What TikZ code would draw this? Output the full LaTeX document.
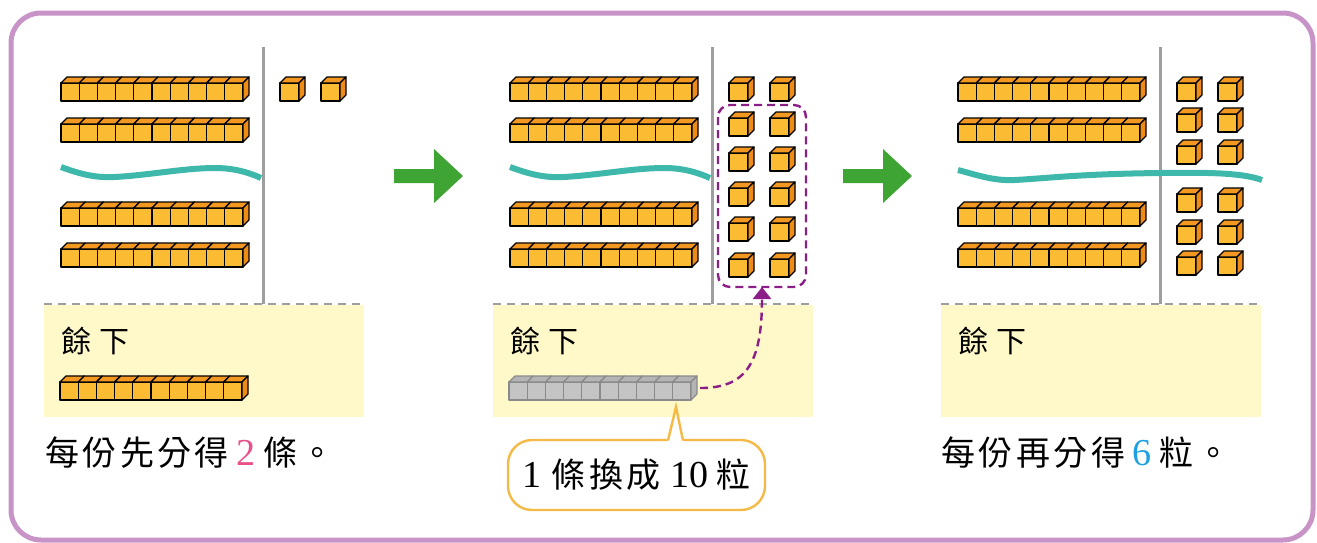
\documentclass[tikz,border=0pt]{standalone}
\usepackage{fontspec}
\newfontfamily\cjk{Noto Sans CJK TC}
\newfontfamily\digitfont{Liberation Serif}[Scale=1.12]
\usetikzlibrary{arrows.meta}

\definecolor{frameviolet}{RGB}{200,148,200}
\definecolor{cubefront}{RGB}{251,188,51}
\definecolor{cubetop}{RGB}{243,152,32}
\definecolor{cubeside}{RGB}{238,140,22}
\definecolor{greyfront}{RGB}{196,196,196}
\definecolor{greytop}{RGB}{180,180,180}
\definecolor{greyline}{RGB}{138,138,138}
\definecolor{dividergrey}{RGB}{158,158,158}
\definecolor{wavegreen}{RGB}{62,184,170}
\definecolor{restyellow}{RGB}{255,248,200}
\definecolor{arrowgreen}{RGB}{62,165,53}
\definecolor{swappurple}{RGB}{140,30,135}
\definecolor{calloutorange}{RGB}{245,185,70}
\definecolor{twopink}{RGB}{232,80,138}
\definecolor{sixblue}{RGB}{30,160,225}

\newcommand{\latn}[1]{{\digitfont #1}}
\newcommand{\cgap}{\hspace{0.1em}}

% one cube face pair: x, y (front top left), width
\newcommand{\onecube}[3]{%
  \filldraw[cubeface] (#1,#2) rectangle ++(#3,18);
  \filldraw[cubetopface] (#1,#2) -- ++(6,-6) -- ++(#3,0) -- ++(-6,6) -- cycle;
}
\newcommand{\tenrod}[2]{%
  \foreach \k in {0,...,9}{\onecube{#1+\k*18.2}{#2}{18.2}}
  \filldraw[cubesideface] (#1+182,#2) -- ++(6,-6) -- ++(0,18) -- ++(-6,6) -- cycle;
}
\newcommand{\unitcube}[2]{%
  \onecube{#1}{#2}{19}
  \filldraw[cubesideface] (#1+19,#2) -- ++(6,-6) -- ++(0,18) -- ++(-6,6) -- cycle;
}

\tikzset{
  frame/.style={draw=frameviolet,line width=2.5pt,rounded corners=15pt},
  cubeface/.style={fill=cubefront,draw=black,line width=0.65pt,line join=round},
  cubetopface/.style={cubeface,fill=cubetop},
  cubesideface/.style={cubeface,fill=cubeside},
  divider/.style={draw=dividergrey,line width=1.5pt},
  restbg/.style={fill=restyellow},
  restline/.style={draw=dividergrey,line width=1.1pt,dash pattern=on 4pt off 3pt},
  wave/.style={draw=wavegreen,line width=3pt},
  goarrow/.style={fill=arrowgreen},
  swapbox/.style={draw=swappurple,line width=1.2pt,dash pattern=on 4pt off 2.5pt,rounded corners=6pt},
  swaparrow/.style={draw=swappurple,line width=1.2pt,dash pattern=on 4pt off 2.5pt,-{Triangle[length=6pt,width=9pt]}},
  resttext/.style={font=\cjk\fontsize{15}{18}\selectfont,inner sep=0pt},
  saytext/.style={font=\cjk\fontsize{17}{20}\selectfont,inner sep=0pt},
  calloutline/.style={draw=calloutorange,line width=1.2pt},
}

\begin{document}
\begin{tikzpicture}[x=0.5pt,y=-0.5pt]
\useasboundingbox (0,0) rectangle (1317,542);
\draw[frame] (11,13) rectangle (1313,540);

% the three panels
\foreach \dx/\p in {0/a,449/b,897/c}{
  \fill[restbg] (44+\dx,305) rectangle (364+\dx,417);
  \draw[restline] (44+\dx,304) -- (364+\dx,304);
  \draw[divider] (263+\dx,47) -- (263+\dx,304);
  \foreach \y in {83,124,208,249}{\tenrod{61+\dx}{\y}}
  \node[resttext,anchor=west] (rest\p) at (61+\dx,341) {餘\hspace{0.27em}下};
}

% panel 1
\unitcube{280}{83}
\unitcube{321}{83}
\foreach \dx in {0,449}{
  \draw[wave,shift={(\dx,0)}] (61,167) .. controls (80,174) and (95,178) .. (115,177)
    .. controls (150,175) and (185,168) .. (215,168) .. controls (235,168) and (250,173) .. (261,178);
}
\tenrod{60}{382}
\node[saytext,anchor=west] (saya) at (45,453)
  {每\cgap 份\cgap 先\cgap 分\cgap 得\hspace{0.22em}\textcolor{twopink}{\latn{2}}\hspace{0.22em}條\cgap 。};

\fill[goarrow] (394,169) -- (434,169) -- (434,149) -- (463,176) -- (434,203) -- (434,183) -- (394,183) -- cycle;

% panel 2
\foreach \y in {83,118,153,188,223,259}{\unitcube{729}{\y} \unitcube{770}{\y}}
\draw[swapbox] (718,105) rectangle (806,287);
\coordinate (boxfoot) at (762,287);
\begin{scope}[cubeface/.style={fill=greyfront,draw=greyline,line width=0.6pt,line join=round},
  cubetopface/.style={cubeface,fill=greytop},cubesideface/.style={cubeface,fill=greytop}]
  \tenrod{509}{382}
\end{scope}
\coordinate (greyend) at (700,388);
\draw[swaparrow] (greyend) .. controls (745,388) and (762,365) .. (boxfoot);

\node[saytext,draw=calloutorange,line width=1.2pt,fill=white,rounded corners=12pt,
  minimum width=128.5pt,minimum height=35pt] (callout) at (636.5,475)
  {\latn{1}\hspace{0.3em}條\cgap 換\cgap 成\hspace{0.3em}\latn{10}\hspace{0.22em}粒};
\coordinate (tip) at (676,407);
\fill[white] (667.5,442) -- (tip) -- (683.5,442) -- cycle;
\draw[calloutline] (668,440.5) -- (tip) -- (683,440.5);

\fill[goarrow] (843,169) -- (883,169) -- (883,149) -- (912,176) -- (883,203) -- (883,183) -- (843,183) -- cycle;

% panel 3
\foreach \y in {83,114,146,194,226,257}{\unitcube{1177}{\y} \unitcube{1218}{\y}}
\draw[wave] (958,170) .. controls (980,176) and (995,181) .. (1015,180)
  .. controls (1050,178) and (1080,174) .. (1160,173) .. controls (1220,172) and (1245,174) .. (1262,180);
\node[saytext,anchor=west] (sayc) at (941,453)
  {每\cgap 份\cgap 再\cgap 分\cgap 得\hspace{0.22em}\textcolor{sixblue}{\latn{6}}\hspace{0.22em}粒\cgap 。};
\end{tikzpicture}
\end{document}
